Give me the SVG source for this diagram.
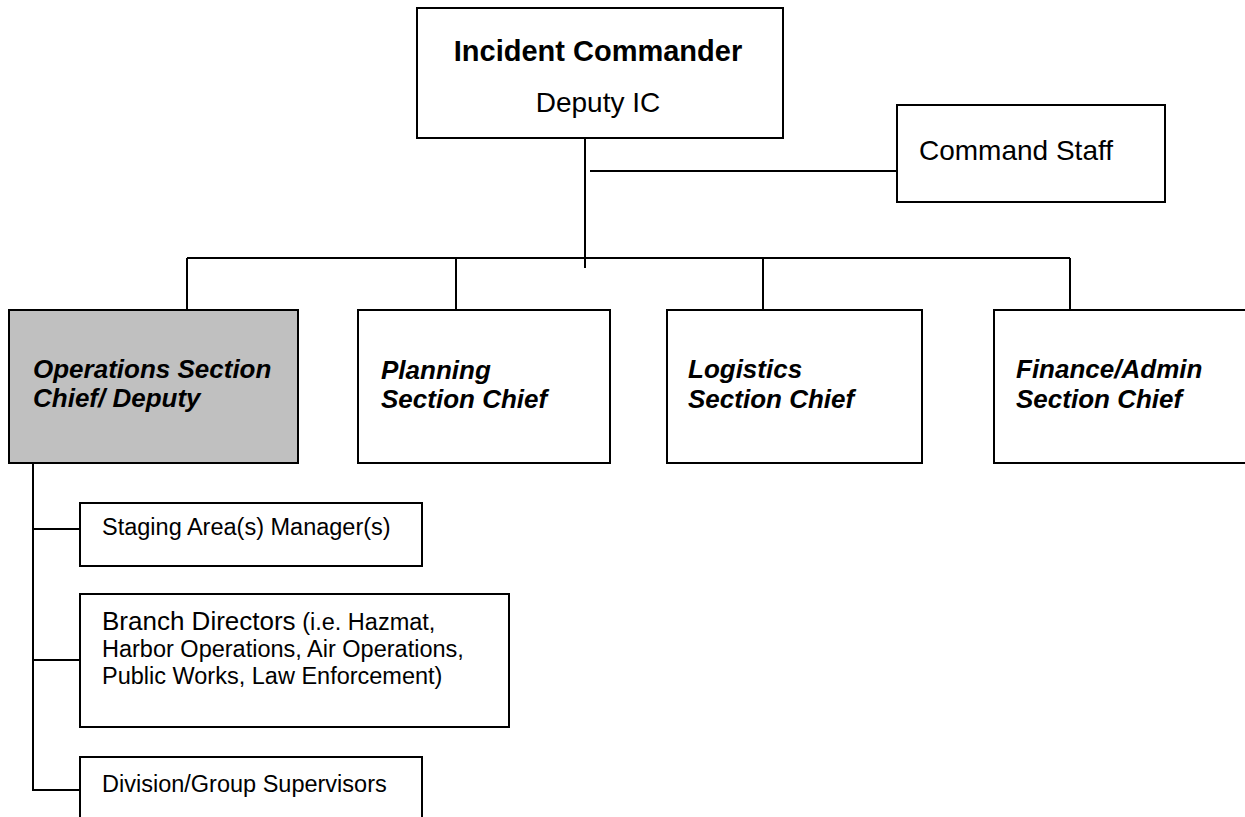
<svg xmlns="http://www.w3.org/2000/svg" width="1245" height="817" viewBox="0 0 1245 817">
  <style>
    .box { fill: #ffffff; stroke: #000000; stroke-width: 2; }
    .shaded { fill: #c0c0c0; stroke: #000000; stroke-width: 2; }
    .link { fill: none; stroke: #000000; stroke-width: 2; }
    text { font-family: "Liberation Sans", Arial, sans-serif; fill: #000000; }
    .title { font-size: 29px; font-weight: bold; }
    .plain { font-size: 28px; }
    .section { font-size: 26px; font-weight: bold; font-style: italic; }
    .small { font-size: 23.5px; }
    .mid { font-size: 26px; }
  </style>

  <!-- connectors -->
  <g id="connectors">
    <line class="link" x1="585" y1="138" x2="585" y2="268"/>
    <line class="link" x1="590" y1="171" x2="897" y2="171"/>
    <line class="link" x1="187" y1="258" x2="1070" y2="258"/>
    <line class="link" x1="187" y1="258" x2="187" y2="310"/>
    <line class="link" x1="456" y1="258" x2="456" y2="310"/>
    <line class="link" x1="763" y1="258" x2="763" y2="310"/>
    <line class="link" x1="1070" y1="258" x2="1070" y2="310"/>
    <line class="link" x1="33" y1="463" x2="33" y2="791"/>
    <line class="link" x1="32" y1="529" x2="80" y2="529"/>
    <line class="link" x1="32" y1="660" x2="80" y2="660"/>
    <line class="link" x1="32" y1="790" x2="80" y2="790"/>
  </g>

  <!-- command level -->
  <g id="incident-commander">
    <rect class="box" x="417" y="8" width="366" height="130"/>
    <text class="title" x="598" y="61" text-anchor="middle">Incident Commander</text>
    <text class="plain" x="598" y="112" text-anchor="middle">Deputy IC</text>
  </g>

  <g id="command-staff">
    <rect class="box" x="897" y="105" width="268" height="97"/>
    <text class="plain" x="919" y="160">Command Staff</text>
  </g>

  <!-- general staff sections -->
  <g id="operations">
    <rect class="shaded" x="9" y="310" width="289" height="153"/>
    <text class="section" x="33" y="378">Operations Section</text>
    <text class="section" x="33" y="407">Chief/ Deputy</text>
  </g>

  <g id="planning">
    <rect class="box" x="358" y="310" width="252" height="153"/>
    <text class="section" x="381" y="379">Planning</text>
    <text class="section" x="381" y="408">Section Chief</text>
  </g>

  <g id="logistics">
    <rect class="box" x="667" y="310" width="255" height="153"/>
    <text class="section" x="688" y="378">Logistics</text>
    <text class="section" x="688" y="408">Section Chief</text>
  </g>

  <g id="finance-admin">
    <rect class="box" x="994" y="310" width="270" height="153"/>
    <text class="section" x="1016" y="378">Finance/Admin</text>
    <text class="section" x="1016" y="408">Section Chief</text>
  </g>

  <!-- operations sub-units -->
  <g id="staging-area">
    <rect class="box" x="80" y="503" width="342" height="63"/>
    <text class="small" x="102" y="535">Staging Area(s) Manager(s)</text>
  </g>

  <g id="branch-directors">
    <rect class="box" x="80" y="594" width="429" height="133"/>
    <text x="102" y="630"><tspan class="mid">Branch Directors</tspan><tspan class="small"> (i.e. Hazmat,</tspan></text>
    <text class="small" x="102" y="657">Harbor Operations, Air Operations,</text>
    <text class="small" x="102" y="684">Public Works, Law Enforcement)</text>
  </g>

  <g id="division-group">
    <rect class="box" x="80" y="757" width="342" height="80"/>
    <text class="small" x="102" y="792">Division/Group Supervisors</text>
  </g>
</svg>
